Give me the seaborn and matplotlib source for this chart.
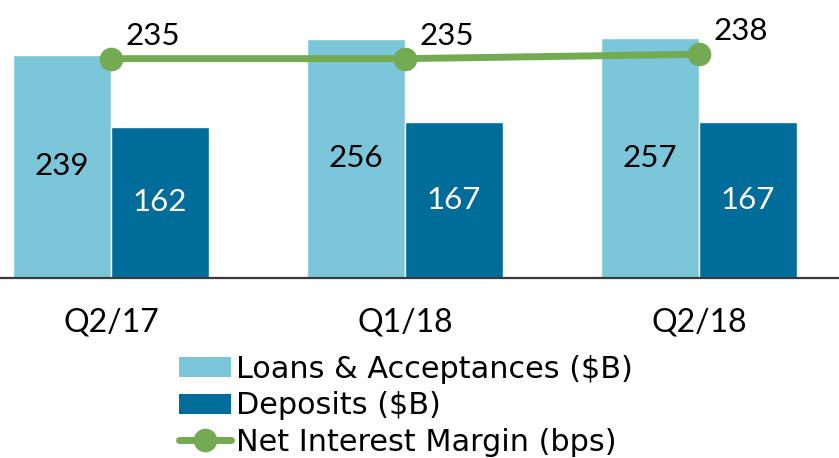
import matplotlib
matplotlib.use("Agg")
import matplotlib.pyplot as plt
import seaborn as sns
import pandas as pd
from matplotlib.patches import Patch
from matplotlib.lines import Line2D

quarters = ["Q2/17", "Q1/18", "Q2/18"]
loans = [239, 256, 257]
deposits = [162, 167, 167]
nim = [235, 235, 238]
series_names = ["Loans & Acceptances ($B)", "Deposits ($B)", "Net Interest Margin (bps)"]

c_loans = "#7BC6D9"
c_dep = "#006C99"
c_nim = "#74AA52"

sns.set_theme(style="white")
plt.rcParams["font.family"] = ["Lato", "DejaVu Sans"]
plt.rcParams["text.color"] = "black"
plt.rcParams["xtick.color"] = "black"
plt.rcParams["xtick.labelcolor"] = "black"

df = pd.DataFrame({
    "quarter": quarters * 2,
    "value": loans + deposits,
    "series": [series_names[0]] * 3 + [series_names[1]] * 3,
})

fig = plt.figure(figsize=(8.39, 4.58), dpi=100)
ax = fig.add_axes([0, 1 - 278 / 458, 1, 278 / 458])

sns.barplot(data=df, x="quarter", y="value", hue="series", order=quarters,
            hue_order=series_names[:2], palette=[c_loans, c_dep], width=0.667,
            saturation=1, ax=ax, legend=False)

ax.set_xlim(-0.378, 2.476)
ax.set_ylim(0, 297.3)
ax.set_xlabel("")
ax.set_ylabel("")
ax.set_yticks([])
ax.tick_params(axis="x", length=0, pad=21, labelsize=23, labelcolor="black")
for s in ["top", "left", "right"]:
    ax.spines[s].set_visible(False)
ax.spines["bottom"].set_color("#3a3a3a")
ax.spines["bottom"].set_linewidth(1.6)

# bar labels
for cont, col in zip(ax.containers, ["black", "white"]):
    ax.bar_label(cont, label_type="center", color=col, fontsize=22.5)

ax2 = ax.twinx()
sns.lineplot(x=quarters, y=nim, ax=ax2, color=c_nim, linewidth=5, marker="o",
             markersize=17, markeredgewidth=0, sort=False)
ax2.set_ylim(85.8, 274.9)
ax2.set_yticks([])
for s in ["top", "left", "right", "bottom"]:
    ax2.spines[s].set_visible(False)
for i, v in enumerate(nim):
    ax2.annotate(str(v), (i, v), xytext=(30, 16.5), textcoords="offset points",
                 ha="center", va="center", fontsize=22.5, color="black")

handles = [
    Patch(facecolor=c_loans, edgecolor="none"),
    Patch(facecolor=c_dep, edgecolor="none"),
    Line2D([0], [0], color=c_nim, linewidth=5, marker="o", markersize=17, markeredgewidth=0),
]
fig.legend(handles, series_names, loc="upper left", bbox_to_anchor=(179 / 839, 1 - 355 / 458),
           frameon=False, prop={"family": "DejaVu Sans", "size": 21.8},
           labelcolor="black",
           handlelength=1.72, handleheight=0.65,
           handletextpad=0.15, labelspacing=0.24, borderpad=0, borderaxespad=0)

fig.savefig("out.png", dpi=100)
